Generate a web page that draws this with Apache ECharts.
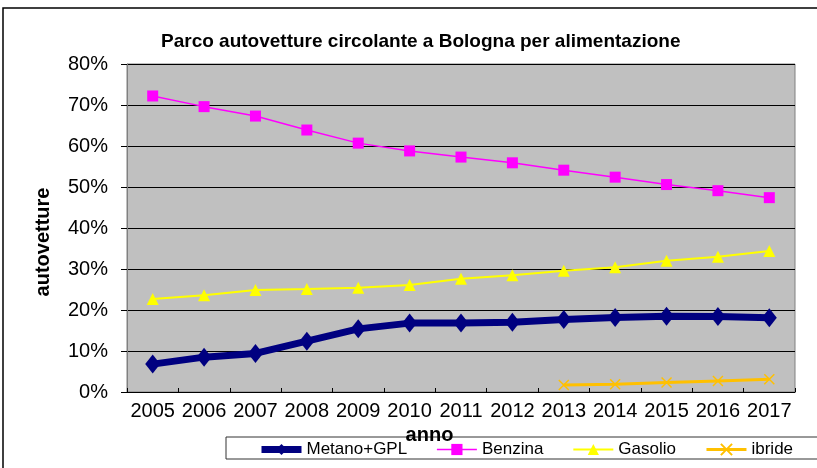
<!DOCTYPE html>
<html>
<head>
<meta charset="utf-8">
<script src="https://cdn.jsdelivr.net/npm/echarts@6/dist/echarts.min.js"></script>
<style>
  html, body { margin: 0; padding: 0; background: #fff; }
  #chart { width: 817px; height: 468px; }
</style>
</head>
<body>
<div id="chart"></div>
<script>
// anni e quote (%)
var anni = ['2005', '2006', '2007', '2008', '2009', '2010', '2011', '2012', '2013', '2014', '2015', '2016', '2017'];
var metanoGpl = [6.8, 8.5, 9.4, 12.4, 15.4, 16.8, 16.8, 17.0, 17.7, 18.2, 18.5, 18.4, 18.1];
var benzina = [72.2, 69.6, 67.3, 63.9, 60.7, 58.8, 57.3, 55.9, 54.1, 52.4, 50.6, 49.1, 47.4];
var gasolio = [22.7, 23.6, 24.9, 25.1, 25.4, 26.1, 27.6, 28.5, 29.6, 30.4, 32.0, 33.0, 34.4];
var ibride = [null, null, null, null, null, null, null, null, 1.7, 1.9, 2.3, 2.7, 3.1];

var font = 'Liberation Sans, Arial, sans-serif';
var chart = echarts.init(document.getElementById('chart'));

var option = {
    animation: false,
    backgroundColor: '#fff',
    title: {
        text: 'Parco autovetture circolante a Bologna per alimentazione',
        left: 156,
        top: 27,
        textStyle: {
            fontFamily: font,
            fontSize: 19,
            fontWeight: 'bold',
            color: '#000'
        }
    },
    graphic: [
        {
            type: 'rect',
            z: -10,
            shape: { x: 3, y: 8, width: 900, height: 500 },
            style: { fill: 'none', stroke: '#000', lineWidth: 1.5 }
        },
        {
            type: 'rect',
            z: 0,
            shape: { x: 226, y: 437, width: 700, height: 22 },
            style: { fill: '#fff', stroke: '#333', lineWidth: 1 }
        }
    ],
    grid: {
        left: 127,
        right: 22,
        top: 64,
        bottom: 76,
        show: true,
        backgroundColor: '#C0C0C0',
        borderColor: '#808080',
        borderWidth: 1
    },
    legend: {
        left: 258,
        top: 441,
        padding: 0,
        itemWidth: 40,
        itemHeight: 14,
        itemGap: 29,
        z: 10,
        textStyle: {
            fontFamily: font,
            fontSize: 17,
            color: '#000'
        },
        data: [
            { name: 'Metano+GPL', lineStyle: { width: 7 } },
            { name: 'Benzina', lineStyle: { width: 1.5 } },
            { name: 'Gasolio', lineStyle: { width: 2 } },
            { name: 'ibride', lineStyle: { width: 3 } }
        ]
    },
    xAxis: {
        type: 'category',
        data: anni,
        boundaryGap: true,
        name: 'anno',
        nameLocation: 'middle',
        nameGap: 29,
        nameTextStyle: {
            fontFamily: font,
            fontSize: 20,
            fontWeight: 'bold',
            color: '#000',
            padding: [0, 63, 0, 0]
        },
        axisLine: { lineStyle: { color: '#000', width: 1 } },
        axisTick: { show: true, inside: true, length: 4, lineStyle: { color: '#000' } },
        axisLabel: {
            interval: 0,
            fontFamily: font,
            fontSize: 20,
            color: '#000',
            margin: 9
        },
        splitLine: { show: false }
    },
    yAxis: {
        type: 'value',
        min: 0,
        max: 80,
        interval: 10,
        name: 'autovetture',
        nameLocation: 'middle',
        nameGap: 74,
        nameTextStyle: {
            fontFamily: font,
            fontSize: 20,
            fontWeight: 'bold',
            color: '#000',
            padding: [0, 28, 0, 0]
        },
        axisLine: { show: true, lineStyle: { color: '#808080', width: 1 } },
        axisTick: { show: true, length: 6, lineStyle: { color: '#000' } },
        axisLabel: {
            fontFamily: font,
            fontSize: 20,
            color: '#000',
            margin: 19,
            formatter: '{value}%'
        },
        splitLine: { show: true, lineStyle: { color: '#000', width: 1 } }
    },
    series: [
        {
            name: 'Metano+GPL',
            type: 'line',
            data: metanoGpl,
            symbol: 'diamond',
            symbolSize: [15, 19],
            lineStyle: { color: '#000080', width: 7 },
            itemStyle: { color: '#000080' }
        },
        {
            name: 'Benzina',
            type: 'line',
            data: benzina,
            symbol: 'rect',
            symbolSize: 11,
            lineStyle: { color: '#FF00FF', width: 1.5 },
            itemStyle: { color: '#FF00FF' }
        },
        {
            name: 'Gasolio',
            type: 'line',
            data: gasolio,
            symbol: 'triangle',
            symbolSize: 12,
            lineStyle: { color: '#FFFF00', width: 2 },
            itemStyle: { color: '#FFFF00' }
        },
        {
            name: 'ibride',
            type: 'line',
            data: ibride,
            symbol: 'path://M0,0L10,10M10,0L0,10',
            symbolSize: 10,
            lineStyle: { color: '#FFC000', width: 3 },
            itemStyle: { color: 'none', borderColor: '#FFC000', borderWidth: 1.5 }
        }
    ]
};

chart.setOption(option);
</script>
</body>
</html>
